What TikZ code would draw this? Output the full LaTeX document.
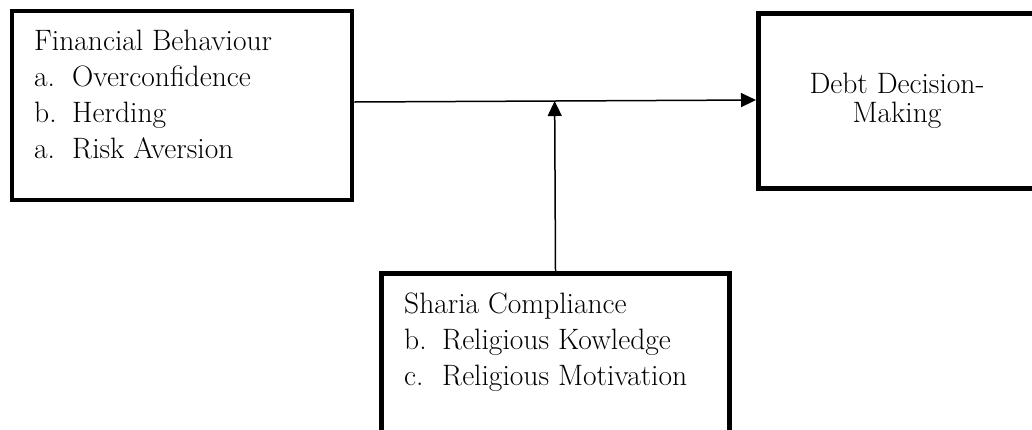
\documentclass[tikz,border=0pt]{standalone}
\usetikzlibrary{arrows.meta,calc}

\tikzset{
  varbox/.style={draw, line width=4.5pt, inner sep=0pt},
  vartext/.style={font=\fontsize{29.5}{36}\selectfont, inner sep=0pt}
}

\begin{document}
\begin{tikzpicture}[x=1pt, y=-1pt, >={Triangle[length=15pt,width=14pt]}]
\clip (0,0) rectangle (1032,429);

\node [varbox, minimum width=340pt, minimum height=189pt] (behav) at (182,105.5) {};
\node [vartext, anchor=base west] (behavtxt) at (34,50)
  {\begin{tabular}[t]{@{}p{38pt}@{}l@{}}
   \multicolumn{2}{@{}l@{}}{Financial Behaviour}\\
   a. & Overconfidence\\
   b. & Herding\\
   a. & Risk Aversion
   \end{tabular}};

\node [varbox, line width=5pt, minimum width=277pt, minimum height=175pt,
  align=center, font=\fontsize{29.5}{29}\selectfont] (debt) at (897,101)
  {Debt Decision-\\Making};

\node [varbox, line width=5pt, minimum width=348pt, minimum height=197pt] (sharia) at (555.5,372) {};
\node [vartext, anchor=base west] (shariatxt) at (404,313)
  {\begin{tabular}[t]{@{}p{38pt}@{}l@{}}
   \multicolumn{2}{@{}l@{}}{Sharia Compliance}\\
   b. & Religious Kowledge\\
   c. & Religious Motivation
   \end{tabular}};

\coordinate (lineA) at ($(behav.east)+(0,-3.5)$);
\coordinate (lineB) at ($(debt.west)+(0,-1)$);
\coordinate (meet) at ($(lineA)!(sharia.north)!(lineB)$);

\draw [->, line width=1.5pt] (lineA) -- (lineB);
\draw [->, line width=1.5pt] (sharia.north) -- (meet);
\end{tikzpicture}
\end{document}
